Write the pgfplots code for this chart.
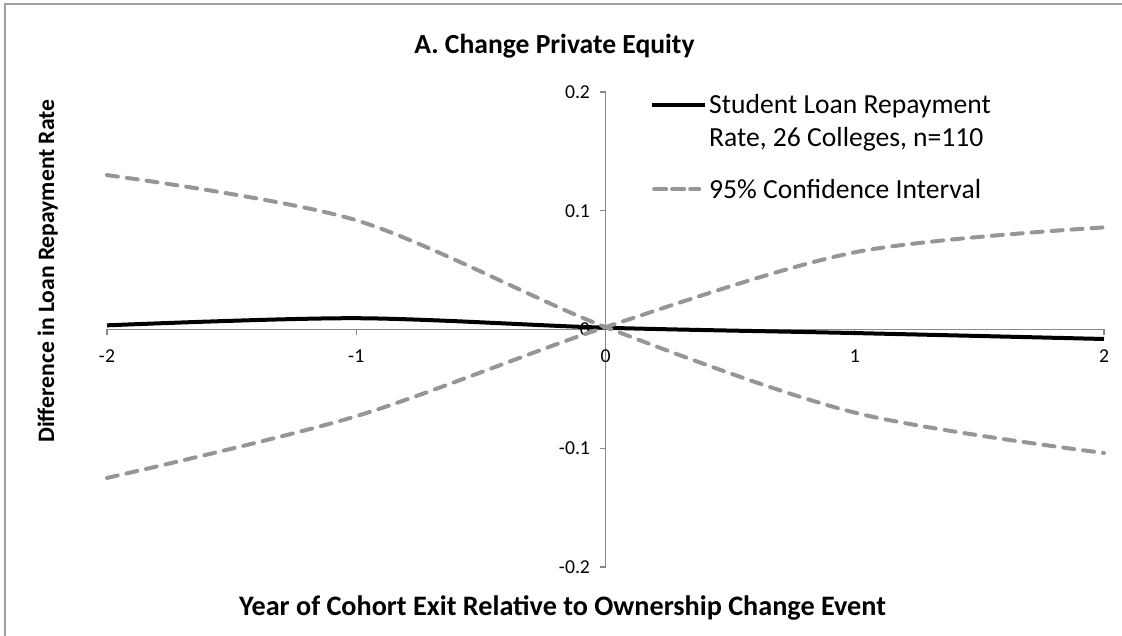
\documentclass[border=0pt]{standalone}
\usepackage{fontspec}
\setmainfont{Carlito}
\usepackage{pgfplots}
\pgfplotsset{compat=1.18}
\definecolor{ciGray}{RGB}{150,150,150}
\definecolor{axGray}{RGB}{137,137,137}
\definecolor{frameGray}{RGB}{160,160,160}
\begin{document}
\begin{tikzpicture}[x=1pt,y=1pt]
\useasboundingbox (0,0) rectangle (1122,635);
\draw[frameGray, line width=1.5pt] (5,-20) -- (5,631) -- (1150,631);
\begin{axis}[
  at={(107pt,68pt)}, anchor=south west,
  scale only axis, width=997pt, height=475pt,
  xmin=-2, xmax=2, ymin=-0.2, ymax=0.2,
  axis lines=middle,
  axis line style={axGray, line width=1.3pt, -},
  xtick={-2,-1,0,1,2}, xticklabels={-2,-1,0,1,2},
  ytick={-0.2,-0.1,0,0.1,0.2}, yticklabels={-0.2,-0.1,0,0.1,0.2},
  hide obscured x ticks=false, hide obscured y ticks=false,
  tick style={axGray, line width=1.3pt},
  tick align=outside, major tick length=6pt,
  ticklabel style={font=\fontsize{19.7}{23}\selectfont},
  xticklabel style={yshift=-11pt},
  yticklabel style={xshift=-6pt},
  legend cell align=left,
  legend style={at={(0.5446,1.0)}, anchor=north west, draw=none, fill=none,
    font=\fontsize{27.6}{33}\selectfont, row sep=27pt,
    cells={align=left}, inner sep=0pt},
  clip=false,
]
\addplot[black, line width=4pt, smooth, tension=0.5,
  legend image code/.code={\draw[black, line width=4pt] (0pt,16pt) -- (53pt,16pt);}]
  coordinates {(-2,0.0035) (-1,0.0095) (0,0.0015) (1,-0.003) (2,-0.008)};
\addlegendentry{Student Loan Repayment\\Rate, 26 Colleges, n=110}
\addplot[ciGray, line width=4pt, smooth, tension=0.5, line cap=round, dash pattern=on 11pt off 9pt,
  legend image code/.code={\draw[ciGray, line width=4pt, line cap=round, dash pattern=on 12pt off 6pt] (2pt,0pt) -- (47pt,0pt);}]
  coordinates {(-2,0.130) (-1,0.092) (0,0.002) (1,-0.070) (2,-0.104)};
\addlegendentry{95\% Confidence Interval}
\addplot[ciGray, line width=4pt, smooth, tension=0.5, line cap=round, dash pattern=on 11pt off 9pt, forget plot]
  coordinates {(-2,-0.125) (-1,-0.073) (0,0.002) (1,0.065) (2,0.086)};
\end{axis}
\node[anchor=base, font=\bfseries\fontsize{27.6}{33}\selectfont] at (554.5,581) {A. Change Private Equity};
\node[anchor=base west, font=\bfseries\fontsize{28.2}{34}\selectfont, inner sep=0pt] at (239,20) {Year of Cohort Exit Relative to Ownership Change Event};
\node[anchor=base west, rotate=90, font=\bfseries\fontsize{23.6}{28}\selectfont, inner sep=0pt] at (54,192) {Difference in Loan Repayment Rate};
\end{tikzpicture}
\end{document}
